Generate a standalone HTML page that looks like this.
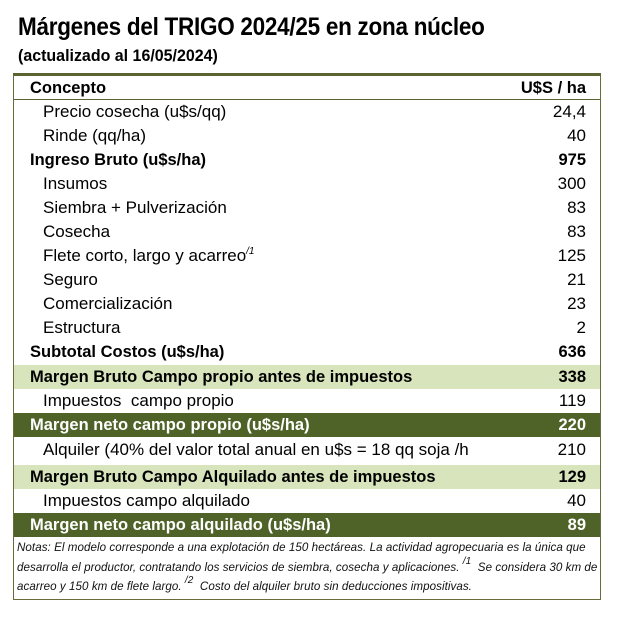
<!DOCTYPE html>
<html><head><meta charset="utf-8"><style>
body{margin:0;width:632px;height:621px;background:#fff;position:relative;font-family:"Liberation Sans",sans-serif;color:#000;overflow:hidden}
.t{position:absolute;left:18px;top:13px;font-weight:bold;font-size:25px;transform:scaleX(0.9);transform-origin:left;white-space:nowrap;letter-spacing:-0.3px}
.s{position:absolute;left:18px;top:46px;font-weight:bold;font-size:17px;transform:scaleX(0.94);transform-origin:left;white-space:nowrap}
.box{position:absolute;left:13px;top:73px;width:588px;height:527px;border:1px solid #6b6b3a;border-top:3px solid #5b6331;box-sizing:border-box}
.r{position:absolute;left:14px;width:586px;height:24px;font-size:17px;line-height:24px;white-space:nowrap}
.r.b{font-size:16.5px}
.r .l{position:absolute;left:16px}
.r .l.i{left:29px}
.r .v{position:absolute;right:14px}
.b{font-weight:bold}
.lg{background:#d8e4bc}
.dg{background:#4f6228;color:#fff}
sup{font-size:10px;font-style:italic;position:relative;top:-7px;vertical-align:baseline;line-height:0}
.n{position:absolute;left:17px;top:538px;width:580px;font-size:11.6px;font-style:italic;line-height:19.5px;color:#111;white-space:nowrap;letter-spacing:0.05px}
</style></head><body>
<div class="t">Márgenes del TRIGO 2024/25 en zona núcleo</div>
<div class="s">(actualizado al 16/05/2024)</div>
<div class="box"></div>
<div class="r b" style="top:76px;border-bottom:1px solid #5b6331;height:23px"><span class="l">Concepto</span><span class="v">U$S / ha</span></div>
<div class="r" style="top:100px"><span class="l i">Precio cosecha (u$s/qq)</span><span class="v">24,4</span></div>
<div class="r" style="top:124px"><span class="l i">Rinde (qq/ha)</span><span class="v">40</span></div>
<div class="r b" style="top:148px"><span class="l">Ingreso Bruto (u$s/ha)</span><span class="v">975</span></div>
<div class="r" style="top:172px"><span class="l i">Insumos</span><span class="v">300</span></div>
<div class="r" style="top:196px"><span class="l i">Siembra + Pulverización</span><span class="v">83</span></div>
<div class="r" style="top:220px"><span class="l i">Cosecha</span><span class="v">83</span></div>
<div class="r" style="top:244px"><span class="l i">Flete corto, largo y acarreo<sup>/1</sup></span><span class="v">125</span></div>
<div class="r" style="top:268px"><span class="l i">Seguro</span><span class="v">21</span></div>
<div class="r" style="top:292px"><span class="l i">Comercialización</span><span class="v">23</span></div>
<div class="r" style="top:316px"><span class="l i">Estructura</span><span class="v">2</span></div>
<div class="r b" style="top:340px"><span class="l">Subtotal Costos (u$s/ha)</span><span class="v">636</span></div>
<div class="r b lg" style="top:365px"><span class="l">Margen Bruto Campo propio antes de impuestos</span><span class="v">338</span></div>
<div class="r" style="top:389px"><span class="l i">Impuestos&nbsp; campo propio</span><span class="v">119</span></div>
<div class="r b dg" style="top:413px"><span class="l">Margen neto campo propio (u$s/ha)</span><span class="v">220</span></div>
<div class="r" style="top:438px"><span class="l i">Alquiler (40% del valor total anual en u$s = 18 qq soja /h</span><span class="v">210</span></div>
<div class="r b lg" style="top:465px"><span class="l">Margen Bruto Campo Alquilado antes de impuestos</span><span class="v">129</span></div>
<div class="r" style="top:489px"><span class="l i">Impuestos campo alquilado</span><span class="v">40</span></div>
<div class="r b dg" style="top:513px"><span class="l">Margen neto campo alquilado (u$s/ha)</span><span class="v">89</span></div>
<div class="n">Notas: El modelo corresponde a una explotación de 150 hectáreas. La actividad agropecuaria es la única que<br>desarrolla el productor, contratando los servicios de siembra, cosecha y aplicaciones. <sup>/1</sup>&nbsp; Se considera 30 km de<br>acarreo y 150 km de flete largo. <sup>/2</sup>&nbsp; Costo del alquiler bruto sin deducciones impositivas.</div>
</body></html>
